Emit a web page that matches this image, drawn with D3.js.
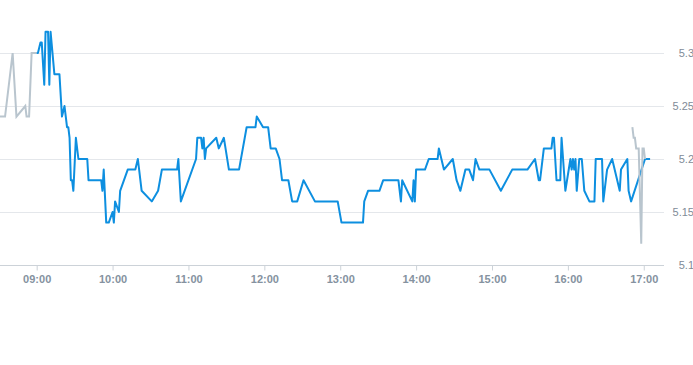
<!DOCTYPE html>
<html>
<head>
<meta charset="utf-8">
<style>
  body { margin: 0; background: #fff; }
  .grid line { stroke: #e4e7eb; }
  .axis text { font: 11px "Liberation Sans", Arial, sans-serif; fill: #7f8b97; }
  .x-axis text { font-weight: bold; fill: #8592a0; }
</style>
</head>
<body>
<svg width="693" height="365"></svg>
<script src="https://d3js.org/d3.v7.min.js"></script>
<script>
// pre-market (grey)
var preTimes = ["08:31","08:35","08:41","08:44","08:51","08:52","08:54","08:56","08:59","09:00"];
var preValues = [5.24, 5.24, 5.30, 5.24, 5.25, 5.24, 5.24, 5.30, 5.30, 5.30];

// regular session (blue)
var mainTimes = ["09:00","09:01","09:03","09:04","09:06","09:07","09:09","09:10","09:11","09:14",
  "09:18","09:20","09:22","09:23","09:24","09:25","09:26","09:27","09:28","09:29",
  "09:31","09:33","09:40","09:41","09:51","09:52","09:53","09:55","09:57","10:00",
  "10:01","10:02","10:05","10:06","10:12","10:18","10:20","10:23","10:31","10:36",
  "10:39","10:51","10:52","10:54","11:06","11:07","11:10","11:11","11:12","11:13",
  "11:14","11:22","11:24","11:28","11:32","11:40","11:46","11:53","11:54","11:59",
  "12:03","12:05","12:09","12:12","12:14","12:19","12:22","12:26","12:31","12:40",
  "12:58","13:01","13:18","13:19","13:22","13:31","13:34","13:46","13:48","13:49",
  "13:57","13:58","13:59","14:00","14:07","14:10","14:17","14:18","14:22","14:29",
  "14:32","14:35","14:39","14:42","14:45","14:47","14:50","14:58","15:07","15:16",
  "15:28","15:34","15:37","15:38","15:41","15:47","15:48","15:49","15:51","15:54",
  "15:55","15:58","16:02","16:03","16:04","16:05","16:06","16:07","16:09","16:11",
  "16:13","16:17","16:21","16:22","16:27","16:28","16:31","16:35","16:41","16:42",
  "16:47","16:48","16:50","17:01","17:05"];
var mainValues = [5.30, 5.30, 5.31, 5.31, 5.27, 5.32, 5.32, 5.27, 5.32, 5.28,
  5.28, 5.24, 5.25, 5.24, 5.23, 5.23, 5.22, 5.18, 5.18, 5.17,
  5.22, 5.20, 5.20, 5.18, 5.18, 5.17, 5.19, 5.14, 5.14, 5.15,
  5.14, 5.16, 5.15, 5.17, 5.19, 5.19, 5.20, 5.17, 5.16, 5.17,
  5.19, 5.19, 5.20, 5.16, 5.20, 5.22, 5.22, 5.21, 5.22, 5.20,
  5.21, 5.22, 5.21, 5.22, 5.19, 5.19, 5.23, 5.23, 5.24, 5.23,
  5.23, 5.21, 5.21, 5.20, 5.18, 5.18, 5.16, 5.16, 5.18, 5.16,
  5.16, 5.14, 5.14, 5.16, 5.17, 5.17, 5.18, 5.18, 5.16, 5.18,
  5.16, 5.18, 5.16, 5.19, 5.19, 5.20, 5.20, 5.21, 5.19, 5.20,
  5.18, 5.17, 5.19, 5.19, 5.18, 5.20, 5.19, 5.19, 5.17, 5.19,
  5.19, 5.20, 5.18, 5.18, 5.21, 5.21, 5.22, 5.22, 5.18, 5.18,
  5.22, 5.17, 5.20, 5.19, 5.20, 5.19, 5.20, 5.17, 5.20, 5.20,
  5.17, 5.16, 5.16, 5.20, 5.20, 5.16, 5.19, 5.20, 5.17, 5.19,
  5.20, 5.17, 5.16, 5.20, 5.20];

// after hours (grey)
var postTimes = ["16:51","16:52","16:53","16:54","16:56","16:58","16:59","17:00","17:01"];
var postValues = [5.23, 5.22, 5.22, 5.21, 5.21, 5.12, 5.21, 5.21, 5.20];

var yTicks = [5.1, 5.15, 5.2, 5.25, 5.3];
var xTicks = ["09:00","10:00","11:00","12:00","13:00","14:00","15:00","16:00","17:00"];

var parse = d3.timeParse("%H:%M");
var svg = d3.select("svg");

var x = d3.scaleTime()
    .domain([parse("08:31"), parse("17:16")])
    .range([0, 664]);
var y = d3.scaleLinear()
    .domain([5.1, 5.3])
    .range([265, 53]);

function pts(times, values) {
  return times.map(function(t, i) { return [parse(t), values[i]]; });
}

// grid
svg.append("g").attr("class", "grid")
  .selectAll("line").data(yTicks.slice(1)).enter().append("line")
    .attr("x1", 0).attr("x2", 664)
    .attr("y1", function(d) { return Math.round(y(d)) + 0.5; })
    .attr("y2", function(d) { return Math.round(y(d)) + 0.5; });

// x axis
var xAxis = svg.append("g").attr("class", "axis x-axis")
    .attr("transform", "translate(0,265.5)")
    .call(d3.axisBottom(x)
      .tickValues(xTicks.map(parse))
      .tickFormat(d3.timeFormat("%H:%M"))
      .tickSize(5).tickPadding(5));
xAxis.select(".domain").attr("stroke", "#ccd2d8").attr("d", "M0,0H664");
xAxis.selectAll(".tick line").attr("stroke", "#ccd2d8");

// y axis labels, right side
var yAxis = svg.append("g").attr("class", "axis y-axis")
    .attr("transform", "translate(694,0)")
    .call(d3.axisRight(y).tickValues(yTicks).tickFormat(d3.format("~g")).tickSize(0).tickPadding(0));
yAxis.select(".domain").remove();
yAxis.selectAll("text").attr("text-anchor", "end");

var line = d3.line()
    .x(function(d) { return x(d[0]); })
    .y(function(d) { return y(d[1]); });

svg.append("path")
    .datum(pts(preTimes, preValues))
    .attr("fill", "none").attr("stroke", "#b9c5ce").attr("stroke-width", 2)
    .attr("d", line);

svg.append("path")
    .datum(pts(mainTimes, mainValues))
    .attr("fill", "none").attr("stroke", "#0d8fe0").attr("stroke-width", 2)
    .attr("stroke-linejoin", "round")
    .attr("d", line);

svg.append("path")
    .datum(pts(postTimes, postValues))
    .attr("fill", "none").attr("stroke", "#b9c5ce").attr("stroke-width", 2)
    .attr("d", line);
</script>
</body>
</html>
